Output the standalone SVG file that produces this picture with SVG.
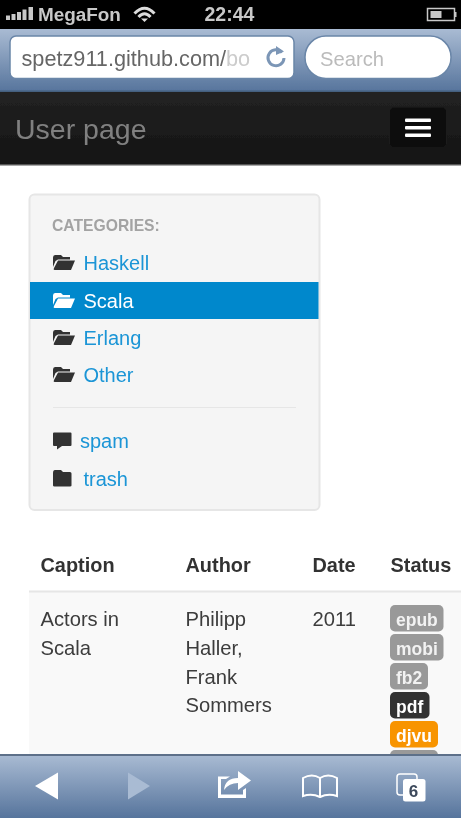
<svg xmlns="http://www.w3.org/2000/svg" width="461" height="818" viewBox="0 0 461 818">
<defs>
<linearGradient id="chrome" x1="0" y1="0" x2="0" y2="1"><stop offset="0" stop-color="#a9bbd3"/><stop offset="1" stop-color="#56749c"/></linearGradient>
<linearGradient id="nav" x1="0" y1="0" x2="0" y2="1"><stop offset="0" stop-color="#222"/><stop offset="1" stop-color="#141414"/></linearGradient>
<filter id="soft" x="0" y="0" width="100%" height="100%" filterUnits="objectBoundingBox"><feGaussianBlur stdDeviation="0.45"/></filter>
<path id="folderOpen" d="M0 4.500Q0 2 2 2H8L10 4H17V6.500H5L2.500 8L0 14ZM5 7.500H22L18 17H1.500Q0 17 1 15Z"/>
</defs>
<style>
text{font-family:"Liberation Sans",Arial,sans-serif}
.link{font-size:20px;fill:#1a95d6}
.th{font-size:19.900px;font-weight:bold;fill:#333}
.td{font-size:20.200px;fill:#3c3c3c}
.badge{font-size:17.500px;font-weight:bold;fill:#f2f2f2}
.ic{fill:#333}
</style>
<rect width="461" height="818" fill="#fff"/>
<g filter="url(#soft)">
<rect width="461" height="818" fill="#fff"/>
<g id="table">
<rect x="29" y="592" width="432" height="165" fill="#f9f9f9"/>
<rect x="29" y="590.500" width="432" height="2" fill="#e6e6e6"/>
<text class="th" x="40.500" y="572">Caption</text>
<text class="th" x="185.500" y="572">Author</text>
<text class="th" x="312.500" y="572">Date</text>
<text class="th" x="390.500" y="572">Status</text>
<text class="td" x="40.500" y="626">Actors in</text>
<text class="td" x="40.500" y="655">Scala</text>
<text class="td" x="185.500" y="626">Philipp</text>
<text class="td" x="185.500" y="655">Haller,</text>
<text class="td" x="185.500" y="683.500">Frank</text>
<text class="td" x="185.500" y="712">Sommers</text>
<text class="td" x="312.500" y="626">2011</text>
</g>
<g id="badges">
<rect x="390" y="605" width="53.500" height="26.500" rx="5" fill="#999"/><text class="badge" x="396" y="625.500">epub</text>
<rect x="390" y="634" width="53.500" height="26.500" rx="5" fill="#999"/><text class="badge" x="396" y="654.500">mobi</text>
<rect x="390" y="663" width="38" height="26.500" rx="5" fill="#999"/><text class="badge" x="396" y="683.500">fb2</text>
<rect x="390" y="692" width="39.500" height="26.500" rx="5" fill="#333"/><text class="badge" x="396" y="712.500" style="fill:#fff">pdf</text>
<rect x="390" y="721" width="48" height="26.500" rx="5" fill="#f89406"/><text class="badge" x="396" y="741.500" style="fill:#fff">djvu</text>
<rect x="390" y="750" width="48" height="10" rx="5" fill="#999"/>
</g>
<g id="sidebar">
<rect x="29.500" y="194.500" width="290" height="315.500" rx="5" fill="#f5f5f5" stroke="#e6e6e6" stroke-width="2"/>
<text x="52" y="231" font-size="15.700" font-weight="bold" fill="#a3a3a3">CATEGORIES:</text>
<rect x="30" y="282" width="288.500" height="37" fill="#0088cc"/>
<rect x="53" y="407" width="243" height="1" fill="#e6e6e6"/>
</g>
<g id="item-haskell"><use href="#folderOpen" class="ic" x="53" y="253"/><text class="link" x="83.500" y="270">Haskell</text></g>
<g id="item-scala"><use href="#folderOpen" fill="#fff" x="53" y="291"/><text class="link" style="fill:#fff" x="83.500" y="308">Scala</text></g>
<g id="item-erlang"><use href="#folderOpen" class="ic" x="53" y="328"/><text class="link" x="83.500" y="345">Erlang</text></g>
<g id="item-other"><use href="#folderOpen" class="ic" x="53" y="365"/><text class="link" x="83.500" y="382">Other</text></g>
<g id="item-spam"><path class="ic" d="M54 432.500H70.500Q71.500 432.500 71.500 433.500V445Q71.500 446 70.500 446H62L57 449.500V446H54Q53 446 53 445V433.500Q53 432.500 54 432.500Z"/><text class="link" x="80" y="448">spam</text></g>
<g id="item-trash"><path class="ic" d="M53 473Q53 470 55 470H61L63 472H70Q71.500 472 71.500 473.500V485.500Q71.500 486.500 70 486.500H54.500Q53 486.500 53 485.500Z"/><text class="link" x="83.500" y="486">trash</text></g>
<g id="status-bar">
<rect width="461" height="29" fill="#000"/>
<g fill="#c8c8c8"><rect x="6" y="15.500" width="4" height="4.500"/><rect x="11.500" y="14" width="4" height="6"/><rect x="17" y="12" width="4" height="8"/><rect x="22.500" y="9.500" width="4" height="10.500"/><rect x="28.500" y="7" width="4.500" height="13"/></g>
<text x="38" y="20.500" font-size="18.900" font-weight="bold" fill="#c8c8c8">MegaFon</text>
<g fill="none" stroke="#dcdcdc" stroke-width="3"><path d="M134.500 13.500Q144.500 3 154.500 13.500"/><path d="M138.500 17Q144.500 10.500 150.500 17"/></g><path d="M141 18.500H148L144.500 22Z" fill="#dcdcdc"/>
<text x="204.500" y="20.500" font-size="19.500" font-weight="bold" fill="#c8c8c8">22:44</text>
<rect x="427.500" y="8.500" width="27" height="12" fill="none" stroke="#c8c8c8" stroke-width="1.500"/><rect x="430.500" y="11" width="11" height="7" fill="#c8c8c8"/><rect x="455" y="12" width="1.500" height="5" fill="#c8c8c8"/>
</g>
<g id="browser-bar">
<rect y="29" width="461" height="63" fill="url(#chrome)"/>
<rect y="90.500" width="461" height="1.500" fill="#45607f"/>
<rect x="10" y="36" width="284" height="42.500" rx="6" fill="#fff" stroke="#6a86a8" stroke-width="1.500"/>
<text x="21.500" y="66" font-size="21.700" fill="#666">spetz911.github.com/<tspan fill="#ccc">bo</tspan></text>
<rect x="256" y="38" width="30" height="39" fill="#fff"/>
<path d="M282 52.500A8 8 0 1 0 284 58" fill="none" stroke="#7b96b6" stroke-width="3"/><path d="M276 46L284 51.500L276 55Z" fill="#7b96b6"/>
<rect x="305" y="36" width="146" height="42.500" rx="21" fill="#fff" stroke="#6a86a8" stroke-width="1.500"/>
<text x="320" y="66" font-size="20.200" fill="#bbb">Search</text>
</g>
<g id="navbar">
<rect y="92" width="461" height="72.500" fill="url(#nav)"/>
<rect y="164" width="461" height="1.500" fill="#555"/>
<text x="15" y="139" font-size="28.500" fill="#808080">User page</text>
<rect x="389.500" y="107" width="57" height="41" rx="5" fill="#0b0b0b" stroke="#1c1c1c"/>
<g fill="#fff"><rect x="405" y="118.500" width="26" height="3.500" rx="1"/><rect x="405" y="126" width="26" height="3.500" rx="1"/><rect x="405" y="133.500" width="26" height="3.500" rx="1"/></g>
</g>
<g id="toolbar">
<rect y="755" width="461" height="63" fill="url(#chrome)"/>
<rect y="754" width="461" height="2" fill="#5d7089"/>
<path d="M35 786L58 772.500V799.500Z" fill="#fff"/>
<path d="M150 786L128 772.500V799.500Z" fill="#a9bbd3"/>
<path d="M218 776.500H230L226 779H221V794.500H243V790L246 788V798H218Z" fill="#fff"/>
<path d="M224 790Q225 778 238 778V771L251 780.500L238 790V783Q229 783 224 790Z" fill="#fff"/>
<path d="M303 796V778Q312 773 320 778Q328 773 337 778V796Q328 793 320 797Q312 793 303 796Z" fill="none" stroke="#fff" stroke-width="2"/><path d="M320 778V797" stroke="#fff" stroke-width="2"/>
<rect x="397" y="774" width="20" height="21" rx="3" fill="none" stroke="#fff" stroke-width="1.500"/>
<rect x="403" y="779" width="22.500" height="22.500" rx="2.500" fill="#fff"/>
<text x="413.500" y="797" text-anchor="middle" font-size="17" font-weight="bold" fill="#3d4a5c">6</text>
</g>
</g>
</svg>
